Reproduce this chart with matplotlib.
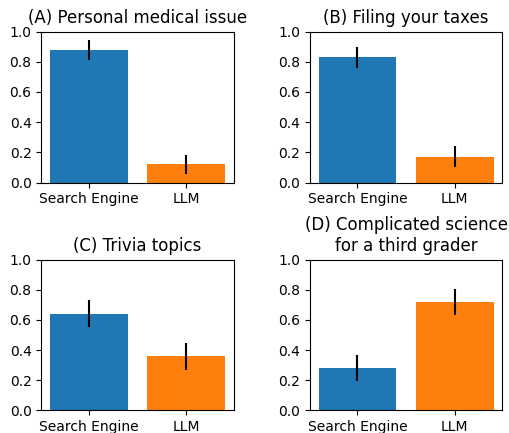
import matplotlib
matplotlib.use('Agg')
import matplotlib.pyplot as plt

titles = ['(A) Personal medical issue', '(B) Filing your taxes',
          '(C) Trivia topics', '(D) Complicated science\nfor a third grader']
labels = ['Search Engine', 'LLM']
search_engine = [0.88, 0.83, 0.64, 0.28]
llm = [0.12, 0.17, 0.36, 0.72]
search_err = [0.065, 0.07, 0.09, 0.087]
llm_err = [0.063, 0.07, 0.09, 0.085]

fig, axes = plt.subplots(2, 2, figsize=(5.09, 4.33), dpi=100)
fig.subplots_adjust(left=0.081, right=0.987, top=0.927, bottom=0.052,
                    wspace=0.394, hspace=0.51)

for i, ax in enumerate(axes.flat):
    ax.bar(labels, [search_engine[i], llm[i]],
           yerr=[search_err[i], llm_err[i]],
           color=['tab:blue', 'tab:orange'])
    ax.set_ylim(0, 1)
    ax.set_title(titles[i], fontsize=12)

fig.savefig('out.png')
